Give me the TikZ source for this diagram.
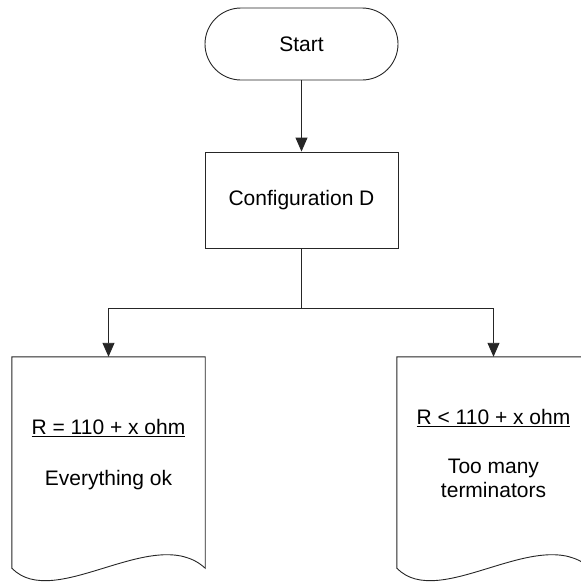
\documentclass[tikz,border=0pt]{standalone}
\usepackage{fontspec}
\setmainfont{Liberation Sans}
\usetikzlibrary{arrows.meta,positioning}

\tikzset{
  lbl/.style={font=\fontsize{21}{24}\selectfont, align=center, inner sep=0pt},
  shapeline/.style={draw=black!85, line width=0.9pt},
  flowarrow/.style={draw=black!85, line width=0.9pt,
    -{Triangle[length=14pt,width=12pt]}},
  terminal/.style={shapeline, rounded corners=36pt, minimum width=193pt,
    minimum height=72pt, inner sep=0pt},
  process/.style={shapeline, minimum width=193pt, minimum height=96pt, inner sep=0pt},
  docbox/.style={minimum width=193pt, minimum height=211pt, inner sep=0pt}
}

% wavy-bottom document outline built from a frame node
\newcommand{\docoutline}[1]{%
  \draw[shapeline, fill=white]
    (#1.north west) -- (#1.north east) -- (#1.south east)
    .. controls ($(#1.south east)+(-50,-46)$) and ($(#1.south west)+(43,44)$)
    .. (#1.south west) -- cycle;}

\usetikzlibrary{calc}

\begin{document}
\begin{tikzpicture}[x=1pt,y=-1pt]
  \useasboundingbox (0,0) rectangle (581,582);
  \clip (0,0) rectangle (581,582);

  % top of the chart
  \node[terminal, lbl] (start) at (301.5,44) {Start};
  \node[process, lbl] (config) at (301.5,200) {Configuration D};

  % the two outcome documents
  \node[docbox] (docA) at (108.5,462.5) {};
  \node[docbox] (docB) at (493.5,462.5) {};
  \docoutline{docA}
  \docoutline{docB}

  \node[lbl] (condA) at (108.5,428) {\underline{R = 110 + x ohm}};
  \node[lbl] (resA) at (108.5,480) {Everything ok};
  \node[lbl] (condB) at (493.5,418) {\underline{R < 110 + x ohm}};
  \node[lbl] (resB) at (493.5,478) {Too many\\terminators};

  % connectors
  \draw[flowarrow] (start.south) -- (config.north);
  \coordinate (split) at ($(config.south)+(0,60)$);
  \draw[shapeline] (config.south) -- (split);
  \draw[flowarrow] (split) -| (docA.north);
  \draw[flowarrow] (split) -| (docB.north);
\end{tikzpicture}
\end{document}
